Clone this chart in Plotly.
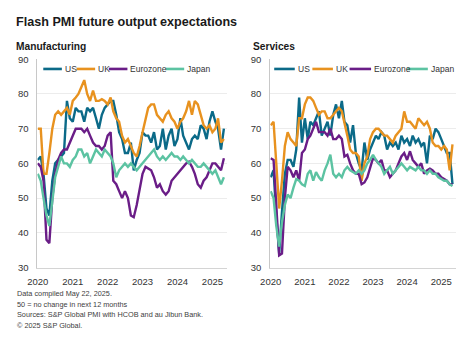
import pandas as pd
import plotly.graph_objects as go

# ---------------- data ----------------
dates = pd.date_range("2020-01-01", periods=65, freq="MS")
series_names = ["US", "UK", "Eurozone", "Japan"]
series_colors = ["#0b6a88", "#e8921f", "#6a1d87", "#5cc3a2"]

mfg_us = [61, 62, 57, 47, 45, 55, 60, 61, 62, 63,
          78, 73, 72, 76, 75, 75, 72, 76, 75, 76,
          73, 70, 74, 76, 77, 78, 78, 74, 69, 67,
          63, 63, 66, 58, 61, 63, 69, 68, 68, 66,
          69, 64, 65, 70, 64, 68, 70, 65, 67, 73,
          68, 66, 64, 67, 68, 67, 71, 70, 67, 72,
          75, 72, 70, 64, 70]
mfg_uk = [70, 70, 57, 57, 63, 70, 74, 75, 74, 75,
          76, 74, 78, 79, 80, 82, 84, 80, 78, 81,
          78, 78, 78.5, 78, 77, 79, 75, 73, 72, 68,
          66, 67, 65, 63, 62, 65, 69, 73, 76, 77,
          77, 74, 73, 72, 74, 75, 73, 72, 70, 72,
          73, 75, 78, 74, 78, 77, 74, 71, 70, 71,
          69, 70, 73, 66, 67]
mfg_ez = [60, 59, 55, 38, 37, 50, 57, 61, 63, 64,
          64, 66, 68, 70, 70, 70, 69, 70, 68, 66,
          65, 65, 64, 65, 68, 69, 55, 54, 52, 50,
          52, 50, 45, 44.5, 48, 53, 57, 59, 58.5, 58,
          56, 53, 54, 52, 51, 52, 55, 56, 57, 58,
          59, 60, 60.5, 59, 57, 54, 53, 55, 56, 58,
          60, 60, 59, 58, 61.5]
mfg_jp = [57, 55, 50, 45, 42, 50, 56, 59, 62, 60,
          60, 59, 61, 62, 64, 64, 62, 63, 60, 62,
          64, 63, 62, 64, 63, 62, 60, 56, 58, 59,
          60, 59, 60, 59, 58, 59, 60, 61, 62, 63,
          64, 62, 61, 62, 61, 62, 63, 62, 62, 61,
          62, 61, 60, 61, 60, 59, 59, 60, 59, 58,
          57, 58, 56, 54, 56]

svc_us = [56, 58, 45, 34, 46, 57, 61, 61, 59, 64,
          79, 66, 73, 67, 72, 71, 73, 75, 68, 70,
          72, 68, 74, 77, 73, 78, 72, 71, 66, 71,
          63, 60, 58, 66, 61, 64, 66, 68, 67, 69,
          68, 64, 66, 65, 66, 64, 68, 66, 67, 65,
          68, 66, 67, 65, 66, 60, 68, 67, 70, 69,
          67, 65, 63, 63, 54]
svc_uk = [71, 72, 60, 47, 55, 65, 69, 67, 66, 65,
          73, 73, 77, 79, 79, 78, 76, 74, 75, 75,
          73, 73, 74, 75, 76, 75, 72, 68, 64, 63,
          63, 62, 55, 60, 62, 67, 69, 70, 70, 69,
          68, 68, 67, 66, 68, 69, 70, 75, 72, 72,
          71, 70, 73, 72, 71, 72, 70, 66, 65, 65,
          64, 65, 64, 58, 65.5]
svc_ez = [61.5, 61, 48, 33.5, 34, 50, 59, 58, 56, 58,
          55, 63, 64, 67, 68, 70, 72, 69, 69, 69,
          68, 70, 67, 67, 68, 67, 62, 62.5, 60, 58,
          57, 57, 54, 54.5, 56, 59, 61.5, 61, 60, 61,
          58, 58, 56, 57, 58, 60, 62, 63, 61, 63.5,
          61, 60, 59, 60, 57, 58, 58.5, 58, 57, 57,
          56, 55.5, 55, 54, 54]
svc_jp = [52, 50, 42, 36, 43, 48, 51, 50, 53, 55.5,
          55, 54, 53.5, 57, 58, 55, 57.5, 56, 55, 58,
          60, 62.5, 57, 56, 57, 56, 58, 59, 58, 57.5,
          57, 58, 57, 58, 60, 61, 62.5, 61, 60, 59,
          57, 58, 59, 57, 58, 59, 60, 59, 58, 59,
          58.5, 58, 59, 58, 58, 57, 58, 57, 57, 56,
          55.5, 55, 55, 54, 53.5]

y_ticks = [30, 40, 50, 60, 70, 80, 90]
x_ticks = ["2020-01-01", "2021-01-01", "2022-01-01", "2023-01-01", "2024-01-01", "2025-01-01"]
x_tick_labels = ["2020", "2021", "2022", "2023", "2024", "2025"]

title_text = "Flash PMI future output expectations"
panel_titles = ["Manufacturing", "Services"]
footnotes = ["Data compiled May 22, 2025.",
             "50 = no change in next 12 months",
             "Sources: S&P Global PMI with HCOB and au Jibun Bank.",
             "\u00a9 2025 S&P Global."]

# ---------------- layout helpers ----------------
W, H = 466, 350
FONT = "Liberation Sans, Arial, sans-serif"


def px(x):
    return x / W


def py(y):
    return 1 - y / H


fig = go.Figure()

mfg = [mfg_us, mfg_uk, mfg_ez, mfg_jp]
svc = [svc_us, svc_uk, svc_ez, svc_jp]
for vals, name, col in zip(mfg, series_names, series_colors):
    fig.add_trace(go.Scatter(x=dates, y=vals, mode="lines", name=name,
                             line=dict(color=col, width=2.4),
                             xaxis="x", yaxis="y", showlegend=False))
for vals, name, col in zip(svc, series_names, series_colors):
    fig.add_trace(go.Scatter(x=dates, y=vals, mode="lines", name=name,
                             line=dict(color=col, width=2.4),
                             xaxis="x2", yaxis="y2", showlegend=False))

ydom = [py(270), py(55)]
xaxis_common = dict(type="date", tickvals=x_ticks, ticktext=x_tick_labels,
                    showgrid=False, showline=True, linecolor="#d4d4d4", linewidth=1,
                    ticks="", ticklabelstandoff=5,
                    tickfont=dict(family=FONT, size=9.5, color="#333333"),
                    zeroline=False, fixedrange=True)
yaxis_common = dict(range=[30, 90], tickvals=y_ticks, showgrid=True,
                    gridcolor="#ececec", gridwidth=1, showline=True,
                    linecolor="#c8c8c8", linewidth=1, ticks="",
                    ticklabelstandoff=6,
                    tickfont=dict(family=FONT, size=9.5, color="#333333"),
                    zeroline=False, fixedrange=True, domain=ydom)

fig.update_layout(
    width=W, height=H,
    margin=dict(l=0, r=0, t=0, b=0),
    paper_bgcolor="white", plot_bgcolor="white",
    xaxis=dict(domain=[px(28), px(222)], range=["2019-12-28", "2025-06-05"],
               anchor="y", **xaxis_common),
    yaxis=dict(anchor="x", **yaxis_common),
    xaxis2=dict(domain=[px(266), px(456)], range=["2019-12-28", "2025-06-10"],
                anchor="y2", **xaxis_common),
    yaxis2=dict(anchor="x2", **yaxis_common),
    showlegend=False,
)

annotations = []
shapes = []
annotations.append(dict(text=title_text, x=px(4), y=py(17), xref="paper", yref="paper",
                        xanchor="left", yanchor="middle", showarrow=False,
                        font=dict(family=FONT, size=12.6, color="#1a1a1a", weight="bold")))
for t, xx in zip(panel_titles, [4, 246]):
    annotations.append(dict(text=t, x=px(xx), y=py(42), xref="paper", yref="paper",
                            xanchor="left", yanchor="middle", showarrow=False,
                            font=dict(family=FONT, size=10.2, color="#1a1a1a", weight="bold")))
for i, t in enumerate(footnotes):
    annotations.append(dict(text=t, x=px(5), y=py(297 + 11 * i), xref="paper", yref="paper",
                            xanchor="left", yanchor="middle", showarrow=False,
                            font=dict(family=FONT, size=7.3, color="#404040")))

# manual legends (line sample + label) for each panel
legend_layouts = [
    # (line_start, line_end, text_x) for each series
    [(34, 53, 54), (68, 87, 88), (101, 120, 121), (159, 178, 179)],
    [(270, 291, 292), (309, 330, 331), (347, 369, 370), (406, 427, 428)],
]
for lay in legend_layouts:
    for (x0, x1, tx), name, col in zip(lay, series_names, series_colors):
        shapes.append(dict(type="line", xref="paper", yref="paper",
                           x0=px(x0), x1=px(x1), y0=py(65), y1=py(65),
                           line=dict(color=col, width=2.6)))
        annotations.append(dict(text=name, x=px(tx), y=py(65), xref="paper", yref="paper",
                                xanchor="left", yanchor="middle", showarrow=False,
                                font=dict(family=FONT, size=8.5, color="#333333")))

fig.update_layout(annotations=annotations, shapes=shapes)
fig.write_html("out.html")
